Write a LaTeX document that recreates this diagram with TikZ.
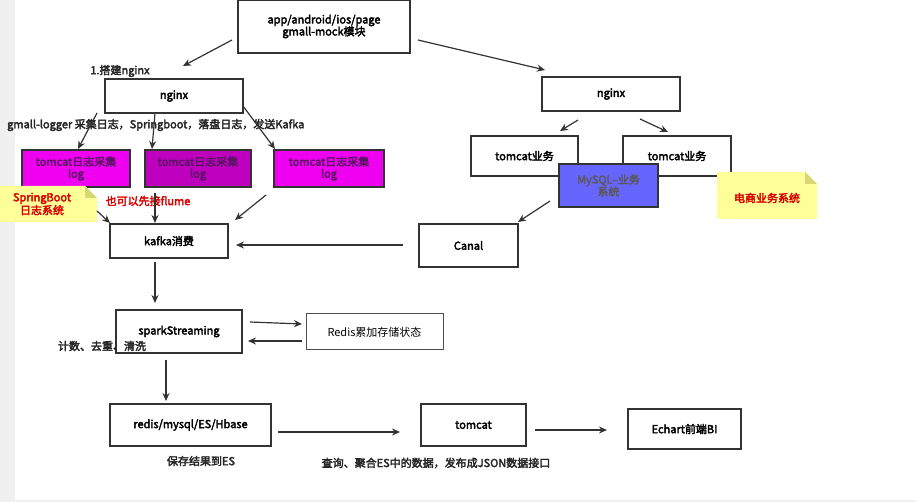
\documentclass[tikz,border=0pt]{standalone}
\usepackage{fontspec}
\setmainfont{Noto Sans CJK SC}[BoldFont={Noto Sans CJK SC},BoldFeatures={FakeBold=3}]
\usetikzlibrary{arrows.meta}
\definecolor{mag1}{RGB}{240,0,240}
\definecolor{mag2}{RGB}{190,0,190}
\definecolor{magtxt}{RGB}{90,20,100}
\definecolor{bluebox}{RGB}{102,102,255}
\definecolor{notey}{RGB}{255,255,153}
\definecolor{notef}{RGB}{215,215,120}
\begin{document}
\begin{tikzpicture}[x=1pt,y=-1pt,
 box/.style={draw=black!80,line width=1.2pt,font=\bfseries\fontsize{11}{12}\selectfont,align=center,inner sep=0pt},
 arr/.style={draw=black!80,line width=1.2pt,-{Stealth[length=8pt,width=7pt]}},
 lbl/.style={font=\bfseries\fontsize{11}{12}\selectfont,text=black!85,inner sep=0pt},
 note/.style={fill=notey,draw=none}]
\useasboundingbox (0,0) rectangle (916,502);
\fill[black!6] (0,0) rectangle (916,502);
\fill[white] (15,0) rectangle (916,500);
% nodes
\node[box,minimum width=172pt,minimum height=53pt] (app) at (324,26.5) {app/android/ios/page\\gmall-mock模块};
\node[box,minimum width=138pt,minimum height=34pt] (ng1) at (174,96) {nginx};
\node[box,minimum width=138pt,minimum height=34pt] (ng2) at (611,94) {nginx};
\node[box,fill=mag1,minimum width=108pt,minimum height=37pt,text=magtxt] (t1) at (76,168.5) {tomcat日志采集\\log};
\node[box,fill=mag2,minimum width=106pt,minimum height=37pt,text=magtxt] (t2) at (198,168.5) {tomcat日志采集\\log};
\node[box,fill=mag1,minimum width=110pt,minimum height=37pt,text=magtxt] (t3) at (329,168.5) {tomcat日志采集\\log};
\node[box,minimum width=107pt,minimum height=40pt] (tb1) at (524.5,156) {tomcat业务};
\node[box,minimum width=108pt,minimum height=40pt] (tb2) at (677,156) {tomcat业务};
\node[box,fill=bluebox,minimum width=99pt,minimum height=43pt,text=black!65] (mysql) at (608.5,185.5) {MySQL--业务\\系统};
\fill[note] (717,172) -- (805,172) -- (817,184) -- (817,219) -- (717,219) -- cycle;
\fill[notef] (805,172) -- (817,184) -- (805,184) -- cycle;
\node[lbl,text=red!85!black] (n1) at (767,198) {电商业务系统};
\fill[note] (0,186) -- (85,186) -- (97,198) -- (97,222) -- (0,222) -- cycle;
\fill[notef] (85,186) -- (97,198) -- (85,198) -- cycle;
\node[lbl,text=red!85!black,align=center] (n2) at (42,204) {SpringBoot\\日志系统};
\node[box,minimum width=118pt,minimum height=34pt] (kafka) at (169,241) {kafka消费};
\node[box,minimum width=99pt,minimum height=43pt] (canal) at (468.5,245.5) {Canal};
\node[box,minimum width=126pt,minimum height=43pt] (spark) at (179,331.5) {sparkStreaming};
\node[box,font=\fontsize{11}{12}\selectfont,minimum width=137pt,minimum height=36pt,line width=1pt,draw=black!70] (redis) at (374.5,332) {Redis累加存储状态};
\node[box,minimum width=161pt,minimum height=42pt] (db) at (190.5,425) {redis/mysql/ES/Hbase};
\node[box,minimum width=105pt,minimum height=42pt] (tc) at (473.5,425) {tomcat};
\node[box,minimum width=113pt,minimum height=40pt] (echart) at (684.5,429) {Echart前端BI};
% labels
\node[lbl] (l1) at (120,71) {1.搭建nginx};
\node[lbl,anchor=west] (l2) at (7,125) {gmall-logger 采集日志，Springboot，落盘日志，发送Kafka};
\node[lbl,text=red!85!black] (l3) at (148,201) {也可以先接flume};
\node[lbl] (l4) at (102,346) {计数、去重、清洗};
\node[lbl] (l5) at (201,461) {保存结果到ES};
\node[lbl] (l6) at (436,463) {查询、聚合ES中的数据，发布成JSON数据接口};
% arrow coordinates
\foreach \n/\x/\y in {a1/232/40,b1/183/66,a2/418/40,b2/545/70,a3/97/113,b3/78/149,a4/155/113,b4/152/149,a5/243/106,b5/275/149,
 a6/578/120,b6/560/131,a7/640/119,b7/668/132,a8/550/201,b8/518/222,a9/97/211,b9/110/223,a10/155/193,b10/155/223,a11/266/195,b11/235/220,
 a12/403/245,b12/236/245,a13/155/262,b13/155/303,a14/250/322,b14/302/324,a15/302/341,b15/248/341,a16/166/360,b16/166/401,
 a17/278/432,b17/400/432,a18/535/430,b18/607/430}
 {\coordinate (\n) at (\x,\y);}
\foreach \i in {1,...,18} {\draw[arr] (a\i) -- (b\i);}
\end{tikzpicture}
\end{document}
